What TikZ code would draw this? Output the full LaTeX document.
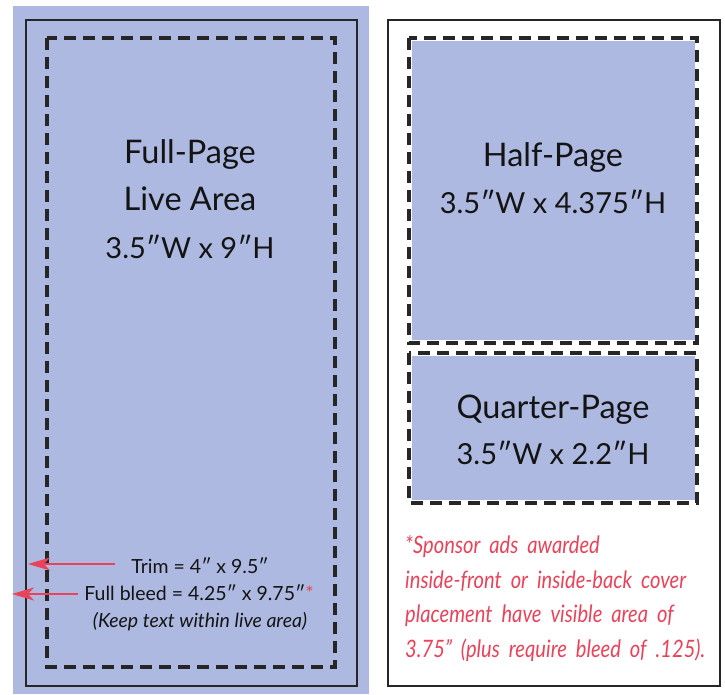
\documentclass[tikz,border=0pt]{standalone}
\usepackage{fontspec}
\setmainfont{Lato}
\newfontfamily\notefont[FakeStretch=0.84, WordSpace=1.9]{Lato}
\usetikzlibrary{arrows.meta}
\definecolor{livefill}{RGB}{173,185,224}
\definecolor{notered}{RGB}{232,67,90}

\begin{document}
\begin{tikzpicture}[x=1pt, y=-1pt,
            every node/.style={
            inner sep=0pt, text centered, text=black!92}
        ]
        \tikzstyle {trim_box} = [draw=black!85, line width=2.4pt]
        \tikzstyle {live_box} = [draw=black!85, line width=3.6pt, dash pattern=on 12pt off 7pt]
        \tikzstyle {big_text} = [font=\fontsize{32.5}{38}\selectfont]
        \tikzstyle {size_text} = [font=\fontsize{29}{34}\selectfont]
        \tikzstyle {small_text} = [font=\fontsize{19.5}{23}\selectfont]
        \tikzstyle {note_text} = [anchor=base west, text=notered, font=\notefont\itshape\fontsize{24}{28}\selectfont]
        \tikzstyle {red_arrow} = [draw=notered, line width=1.8pt, -{Stealth[length=22pt, width=13pt, inset=6pt]}]

        \useasboundingbox (0,0) rectangle (725,694);

        % full page
        \fill [livefill] (13,6) rectangle (369,694);
        \draw [trim_box] (26,20) rectangle (357,686);
        \draw [live_box] (47,38) rectangle (335,667);

        \node [big_text, anchor=base] (full) at (190,163) {Full-Page};
        \node [big_text, anchor=base] (live) at (190,210) {Live Area};
        \node [size_text, anchor=base] (full_size) at (190,258) {3.5″W x 9″H};

        \node [small_text, anchor=base] (trim) at (200,573) {Trim = 4″ x 9.5″};
        \node [small_text, anchor=base] (bleed) at (199,600) {Full bleed = 4.25″ x 9.75″\textcolor{notered}{*}};
        \node [small_text, anchor=base] (keep) at (200,627) {\itshape (Keep text within live area)};

        \coordinate (trim_edge) at (28,564);
        \coordinate (bleed_edge) at (12,594);
        \draw [red_arrow] ([xshift=-16pt]trim.west |- trim_edge) -- (trim_edge);
        \draw [red_arrow] ([xshift=-6pt]bleed.west |- bleed_edge) -- (bleed_edge);

        % half and quarter page
        \draw [trim_box] (388,20) rectangle (720,686);
        \fill [livefill] (412,41) rectangle (695,340);
        \draw [live_box] (409,38) rectangle (697,343);
        \fill [livefill] (412,356) rectangle (695,500);
        \draw [live_box] (409,353) rectangle (697,503);

        \node [big_text, anchor=base] (half) at (553,166) {Half-Page};
        \node [size_text, anchor=base] (half_size) at (553,213) {3.5″W x 4.375″H};
        \node [big_text, anchor=base] (quarter) at (553,418) {Quarter-Page};
        \node [size_text, anchor=base] (quarter_size) at (553,464) {3.5″W x 2.2″H};

        \node [note_text] (note_1) at (405,553) {*Sponsor ads awarded};
        \node [note_text] (note_2) at (405,588) {inside-front or inside-back cover};
        \node [note_text] (note_3) at (405,622) {placement have visible area of};
        \node [note_text] (note_4) at (405,657) {3.75” (plus require bleed of .125).};

        \end{tikzpicture}
\end{document}
